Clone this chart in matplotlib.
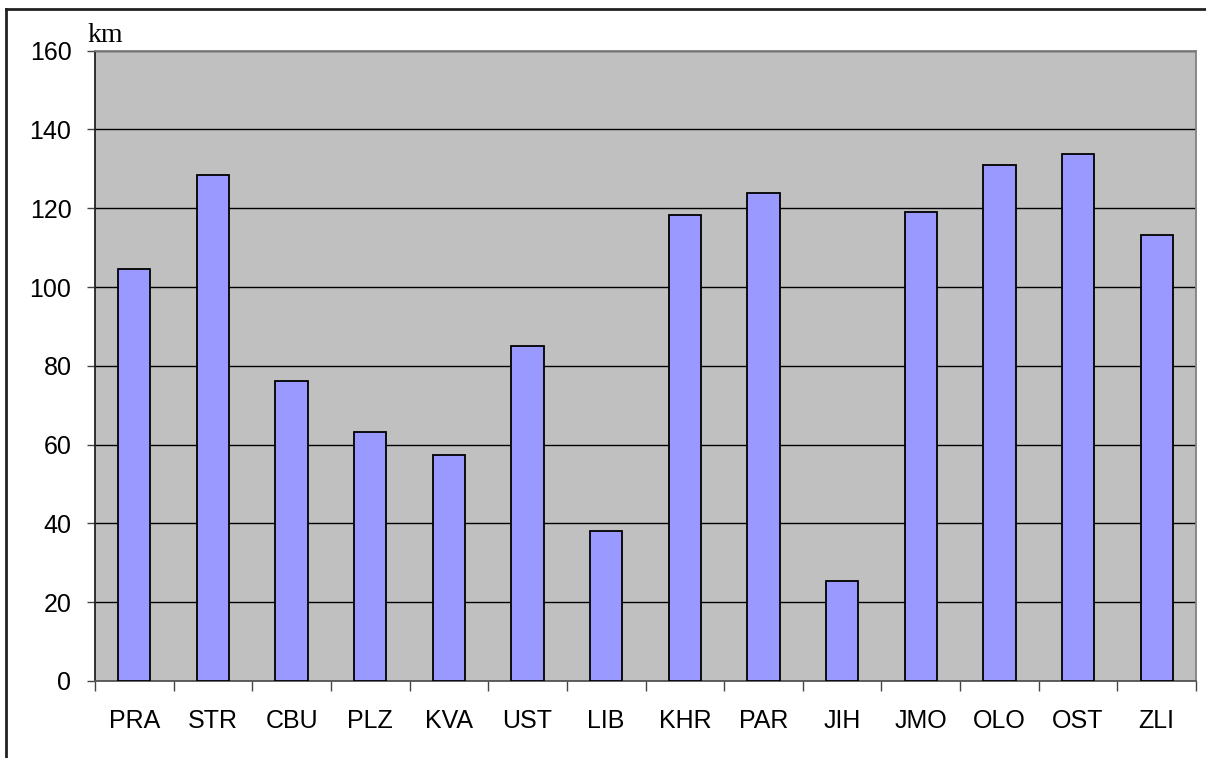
import numpy as np
import matplotlib.pyplot as plt
from matplotlib.lines import Line2D

regions = ['PRA', 'STR', 'CBU', 'PLZ', 'KVA', 'UST', 'LIB',
           'KHR', 'PAR', 'JIH', 'JMO', 'OLO', 'OST', 'ZLI']
km = [104.7, 128.4, 76.2, 63.2, 57.4, 85.0, 38.1,
      118.3, 123.9, 25.4, 119.1, 131.0, 133.9, 113.1]
y_ticks = [0, 20, 40, 60, 80, 100, 120, 140, 160]

plt.rcParams['font.family'] = ['Liberation Sans', 'DejaVu Sans']

fig = plt.figure(figsize=(12.06, 7.58), dpi=100)
ax = fig.add_axes([95 / 1206, 1 - 681 / 758, 1101 / 1206, 630.3 / 758])
ax.set_facecolor('#C0C0C0')

x = np.arange(len(regions))
ax.bar(x, km, width=0.41, color='#9999FF', edgecolor='black', linewidth=1.3, zorder=3)

ax.set_xlim(-0.5, len(regions) - 0.5)
ax.set_ylim(0, 160)
ax.set_yticks(y_ticks)
ax.set_yticklabels([str(v) for v in y_ticks], fontsize=18)
ax.yaxis.grid(True, color='black', linewidth=1.0, zorder=1)
ax.set_axisbelow(True)

# category labels in the middle, tick marks on the boundaries
ax.set_xticks(x)
ax.set_xticklabels(regions, fontsize=18)
ax.tick_params(axis='x', which='major', length=0, pad=20)
ax.set_xticks(np.arange(-0.5, len(regions), 1), minor=True)
ax.tick_params(axis='x', which='minor', length=7, width=1, color='#444444', direction='out')
ax.tick_params(axis='y', length=6, width=1, color='#444444', pad=11)

ax.spines['top'].set_color('#808080')
ax.spines['right'].set_color('#808080')
ax.spines['left'].set_color('#222222')
ax.spines['bottom'].set_color('#555555')
for s in ax.spines.values():
    s.set_linewidth(1.3)

ax.text(105 / 1206, 1 - 36 / 758, 'km', transform=fig.transFigure,
        ha='center', va='center', fontsize=20, family=['Liberation Serif', 'DejaVu Serif'])

# outer frame (left and top edge only are visible)
fig.add_artist(Line2D([6 / 1206, 6 / 1206], [0, 1 - 9 / 758], transform=fig.transFigure,
                      color='#222222', linewidth=2))
fig.add_artist(Line2D([6 / 1206, 1], [1 - 9 / 758, 1 - 9 / 758], transform=fig.transFigure,
                      color='#222222', linewidth=2))

fig.savefig('out.png', dpi=100)
